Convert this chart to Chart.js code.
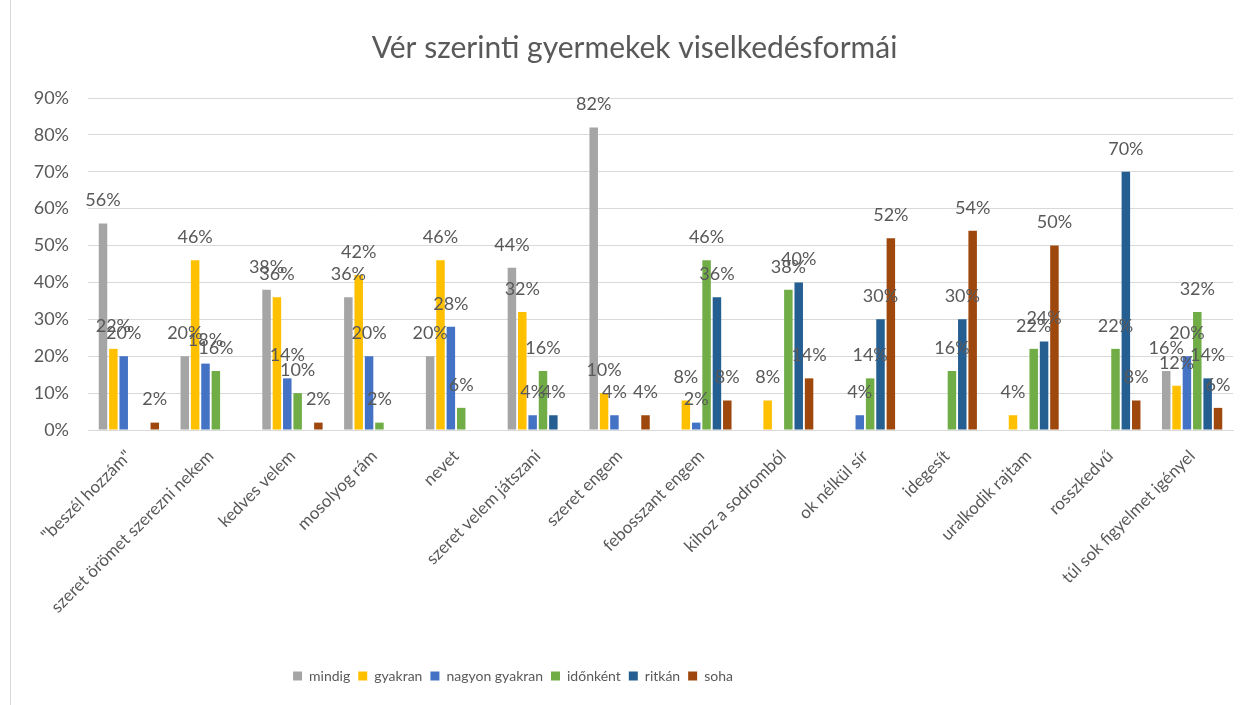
<!DOCTYPE html>
<html>
<head>
<meta charset="utf-8">
<script src="https://cdn.jsdelivr.net/npm/chart.js@4"></script>
<style>
  html, body { margin: 0; padding: 0; background: #fff; }
</style>
</head>
<body>
<canvas id="myChart" width="1257" height="705"></canvas>
<script>
const categories = [
  '"beszél hozzám"',
  'szeret örömet szerezni nekem',
  'kedves velem',
  'mosolyog rám',
  'nevet',
  'szeret velem játszani',
  'szeret engem',
  'febosszant engem',
  'kihoz a sodromból',
  'ok nélkül sír',
  'idegesít',
  'uralkodik rajtam',
  'rosszkedvű',
  'túl sok figyelmet igényel',
];
const mindig = [56, 20, 38, 36, 20, 44, 82, 0, 0, 0, 0, 0, 0, 16];
const gyakran = [22, 46, 36, 42, 46, 32, 10, 8, 8, 0, 0, 4, 0, 12];
const nagyonGyakran = [20, 18, 14, 20, 28, 4, 4, 2, 0, 4, 0, 0, 0, 20];
const idonkent = [0, 16, 10, 2, 6, 16, 0, 46, 38, 14, 16, 22, 22, 32];
const ritkan = [0, 0, 0, 0, 0, 4, 0, 36, 40, 30, 30, 24, 70, 14];
const soha = [2, 0, 2, 0, 0, 0, 4, 8, 14, 52, 54, 50, 8, 6];
const yTicks = [0, 10, 20, 30, 40, 50, 60, 70, 80, 90];

const font = 'Lato, "Open Sans", sans-serif';
const textColor = '#595959';

// labels over the bars, zero values are left out
const barLabels = {
  id: 'barLabels',
  beforeDraw(chart) {
    const ctx = chart.ctx;
    ctx.save();
    ctx.fillStyle = '#fff';
    ctx.fillRect(0, 0, chart.width, chart.height);
    ctx.strokeStyle = '#d9d9d9';
    ctx.lineWidth = 1;
    ctx.beginPath();
    ctx.moveTo(10.5, 0);
    ctx.lineTo(10.5, chart.height);
    ctx.stroke();
    ctx.restore();
  },
  afterLayout(chart) {
    // legend sits left of centre in the original, title a bit right
    const lg = chart.legend;
    const w = lg.right - lg.left;
    lg.left = 513 - w / 2;
    lg.right = 513 + w / 2;
    const tb = chart.titleBlock;
    tb.left += 18;
    tb.right += 18;
  },
  afterDatasetsDraw(chart) {
    const ctx = chart.ctx;
    ctx.save();
    ctx.font = '18px ' + font;
    ctx.fillStyle = textColor;
    ctx.textAlign = 'center';
    ctx.textBaseline = 'middle';
    chart.data.datasets.forEach((ds, i) => {
      const meta = chart.getDatasetMeta(i);
      if (meta.hidden) return;
      meta.data.forEach((bar, j) => {
        const v = ds.data[j];
        if (!v) return;
        ctx.fillText(v + '%', bar.x, bar.y - 23);
      });
    });
    ctx.restore();
  },
};

const data = {
  labels: categories,
  datasets: [
    { label: 'mindig', data: mindig, backgroundColor: '#a5a5a5' },
    { label: 'gyakran', data: gyakran, backgroundColor: '#ffc000' },
    { label: 'nagyon gyakran', data: nagyonGyakran, backgroundColor: '#4472c4' },
    { label: 'időnként', data: idonkent, backgroundColor: '#70ad47' },
    { label: 'ritkán', data: ritkan, backgroundColor: '#255e91' },
    { label: 'soha', data: soha, backgroundColor: '#9e480e' },
  ],
};

const config = {
  type: 'bar',
  data: data,
  options: {
    responsive: false,
    animation: false,
    categoryPercentage: 0.76,
    barPercentage: 0.82,
    layout: { padding: { left: 0, right: 24, top: 0, bottom: 12 } },
    plugins: {
      title: {
        display: true,
        text: 'Vér szerinti gyermekek viselkedésformái',
        color: textColor,
        font: { family: font, size: 30, weight: 'normal' },
        padding: { top: 30, bottom: 32 },
      },
      legend: {
        position: 'bottom',
        labels: {
          color: textColor,
          font: { family: font, size: 14 },
          boxWidth: 9,
          boxHeight: 9,
          padding: 8,
        },
      },
      tooltip: { enabled: false },
    },
    scales: {
      x: {
        afterFit(axis) {
          axis.height = 231;
        },
        grid: { display: false, drawTicks: false },
        border: { color: '#d9d9d9' },
        ticks: {
          color: textColor,
          font: { family: font, size: 17 },
          maxRotation: 45,
          minRotation: 45,
          padding: 16,
        },
      },
      y: {
        min: 0,
        max: 90,
        afterFit(axis) {
          axis.width = 88;
        },
        afterBuildTicks(axis) {
          axis.ticks = yTicks.map(v => ({ value: v }));
        },
        grid: { color: '#d9d9d9', drawTicks: false },
        border: { display: false },
        ticks: {
          color: textColor,
          font: { family: font, size: 18 },
          padding: 19,
          callback: v => v + '%',
        },
      },
    },
  },
  plugins: [barLabels],
};

const myChart = new Chart(document.getElementById('myChart'), config);
</script>
</body>
</html>
